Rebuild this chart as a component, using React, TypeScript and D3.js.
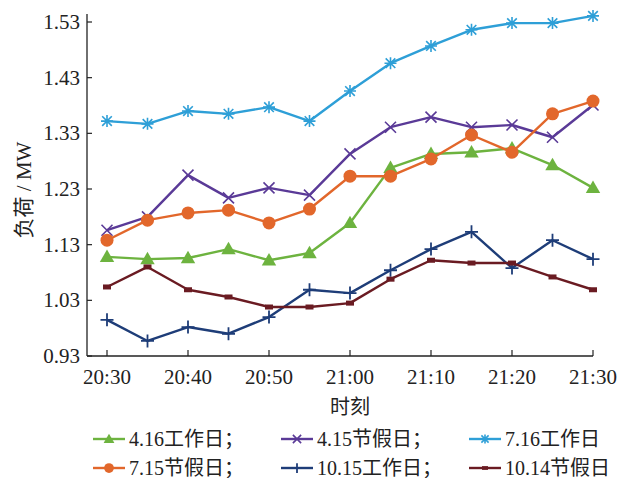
import React from "react";
import * as d3 from "d3";

const times = ["20:30","20:35","20:40","20:45","20:50","20:55","21:00","21:05","21:10","21:15","21:20","21:25","21:30"];
const xTickLabels = ["20:30","20:40","20:50","21:00","21:10","21:20","21:30"];
const yTicks = [0.93, 1.03, 1.13, 1.23, 1.33, 1.43, 1.53];

const s416 = [1.108,1.104,1.106,1.122,1.102,1.115,1.169,1.268,1.293,1.296,1.303,1.273,1.232];
const s415 = [1.156,1.180,1.255,1.214,1.232,1.219,1.293,1.341,1.359,1.341,1.345,1.323,1.381];
const s716 = [1.352,1.347,1.370,1.365,1.377,1.352,1.406,1.456,1.487,1.516,1.528,1.528,1.541];
const s715 = [1.138,1.174,1.187,1.192,1.169,1.194,1.253,1.253,1.284,1.327,1.296,1.365,1.388];
const s1015 = [0.995,0.957,0.982,0.970,1.000,1.049,1.043,1.084,1.122,1.153,1.088,1.138,1.104];
const s1014 = [1.054,1.090,1.049,1.036,1.018,1.018,1.025,1.068,1.102,1.097,1.097,1.072,1.049];

const seriesNames = ["4.16工作日；","4.15节假日；","7.16工作日","7.15节假日；","10.15工作日；","10.14节假日"];
const seriesData = [s416, s415, s716, s715, s1015, s1014];
const seriesColors = ["#6db33f","#5a3a97","#2e9fd7","#e2672b","#1e3d78","#6a1b22"];
const seriesMarkers = ["triangle","x","asterisk","circle","plus","dash"];

const W = 619, H = 478;
const FONT = "'Liberation Serif', 'Times New Roman', 'Noto Sans CJK SC', serif";

function Marker({ type, x, y, color, small }: { type: string; x: number; y: number; color: string; small?: boolean }) {
  const k = small ? 0.75 : 1;
  switch (type) {
    case "triangle": {
      const p = d3.symbol(d3.symbolTriangle, 90 * k * k)();
      return <path d={p!} transform={`translate(${x},${y + 1})`} fill={color} />;
    }
    case "circle":
      return <circle cx={x} cy={y} r={6.5 * k} fill={color} />;
    case "x": {
      const s = 5.5 * k;
      return <path d={`M${x - s},${y - s}L${x + s},${y + s}M${x - s},${y + s}L${x + s},${y - s}`} stroke={color} strokeWidth={1.6} />;
    }
    case "plus": {
      const s = 6.5 * k;
      return <path d={`M${x - s},${y}L${x + s},${y}M${x},${y - s}L${x},${y + s}`} stroke={color} strokeWidth={1.8} />;
    }
    case "asterisk": {
      const s = 6 * k;
      const d = s * 0.8;
      return <path d={`M${x - s},${y}L${x + s},${y}M${x},${y - s}L${x},${y + s}M${x - d},${y - d}L${x + d},${y + d}M${x - d},${y + d}L${x + d},${y - d}`} stroke={color} strokeWidth={1.6} />;
    }
    case "dash":
      return <rect x={x - 4 * k} y={y - 2.5 * k} width={8 * k} height={5 * k} fill={color} />;
  }
  return null;
}

export default function App() {
  const left = 87, right = 593, x0 = 107, top = 22, bottom = 356;
  const x = d3.scalePoint<string>().domain(times).range([x0, right]);
  const y = d3.scaleLinear().domain([0.93, 1.53]).range([bottom, top]);
  const line = d3.line<number>().x((_, i) => x(times[i])!).y((d) => y(d));

  const legendCols = [93, 281, 469];
  const legendRows = [439, 468];

  return (
    <svg width={W} height={H} style={{ position: "absolute", left: 0, top: 0, background: "#fff" }} fontFamily={FONT}>
      {/* axes */}
      <line x1={left} y1={14} x2={left} y2={bottom} stroke="#222" strokeWidth={1.3} />
      <line x1={left} y1={bottom} x2={right} y2={bottom} stroke="#222" strokeWidth={1.3} />
      {yTicks.map((t) => (
        <g key={t}>
          <line x1={left} x2={left + 5} y1={y(t)} y2={y(t)} stroke="#222" strokeWidth={1.2} />
          <text x={80} y={y(t) + 7} fontSize={21} textAnchor="end" fill="#222">{t.toFixed(2)}</text>
        </g>
      ))}
      {xTickLabels.map((t) => (
        <g key={t}>
          <line x1={x(t)} x2={x(t)} y1={bottom} y2={bottom - 6} stroke="#222" strokeWidth={1.2} />
          <text x={x(t)} y={384} fontSize={21} textAnchor="middle" fill="#222">{t}</text>
        </g>
      ))}
      <text x={350} y={414} fontSize={20} textAnchor="middle" fill="#222">时刻</text>
      <text transform={`translate(31,${(top + bottom) / 2 + 1}) rotate(-90)`} fontSize={21} textAnchor="middle" fill="#222">负荷 / MW</text>

      {/* series */}
      {seriesData.map((s, si) => (
        <g key={si}>
          <path d={line(s)!} fill="none" stroke={seriesColors[si]} strokeWidth={2.4} strokeLinejoin="round" />
          {s.map((v, i) => (
            <Marker key={i} type={seriesMarkers[si]} x={x(times[i])!} y={y(v)} color={seriesColors[si]} />
          ))}
        </g>
      ))}

      {/* legend */}
      {seriesNames.map((n, i) => {
        const lx = legendCols[i % 3];
        const ly = legendRows[Math.floor(i / 3)];
        return (
          <g key={n}>
            <line x1={lx} x2={lx + 32} y1={ly} y2={ly} stroke={seriesColors[i]} strokeWidth={2.4} />
            <Marker type={seriesMarkers[i]} x={lx + 16} y={ly} color={seriesColors[i]} small />
            <text x={lx + 36} y={ly + 7} fontSize={20} fill="#222">{n}</text>
          </g>
        );
      })}
    </svg>
  );
}
